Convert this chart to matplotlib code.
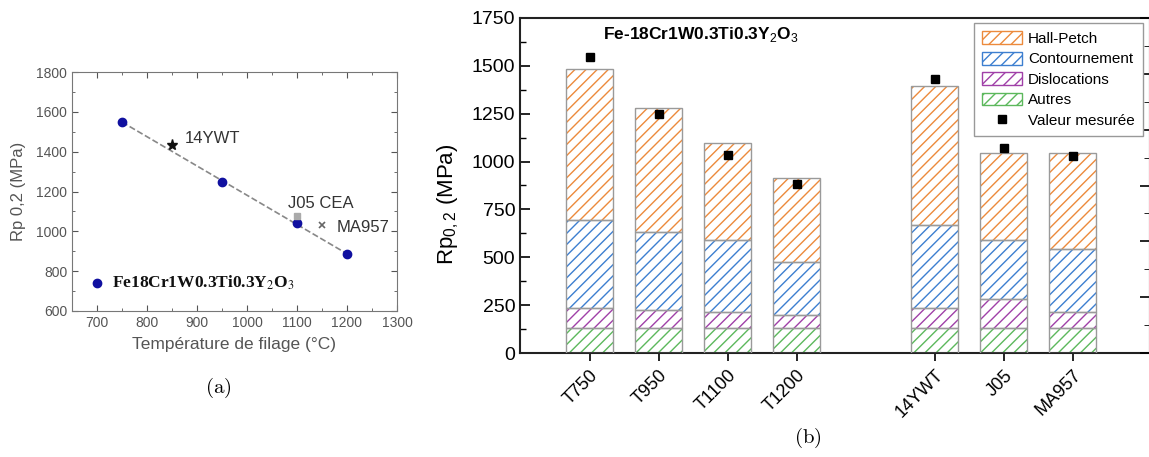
import matplotlib
matplotlib.use("Agg")
import matplotlib.pyplot as plt
from matplotlib.patches import Patch
from matplotlib.lines import Line2D
from matplotlib.ticker import MultipleLocator
import numpy as np

# ---- panel (a): Rp0.2 vs extrusion temperature ----
temp_fe18 = [750, 950, 1100, 1200]
rp_fe18 = [1550, 1250, 1040, 885]
ref_names = ["14YWT", "J05 CEA", "MA957"]
ref_temp = [850, 1100, 1150]
ref_rp = [1435, 1075, 1030]

# ---- panel (b): stacked contributions ----
samples = ["T750", "T950", "T1100", "T1200", "14YWT", "J05", "MA957"]
autres = [133, 133, 133, 133, 133, 133, 133]
dislocations = [104, 93, 81, 65, 104, 148, 81]
contournement = [456, 404, 375, 276, 433, 310, 328]
hall_petch = [790, 648, 506, 439, 727, 454, 501]
mesure = [1548, 1246, 1035, 885, 1433, 1070, 1031]

plt.rcParams['font.family'] = ['Liberation Sans', 'DejaVu Sans']
plt.rcParams['hatch.linewidth'] = 1.0
plt.rcParams['mathtext.fontset'] = 'custom'
plt.rcParams['mathtext.rm'] = 'Liberation Sans'

W, H = 1149, 457
fig = plt.figure(figsize=(W / 100, H / 100), dpi=100)


def box(l, t, r, b):
    return [l / W, 1 - b / H, (r - l) / W, (b - t) / H]


# ------------------ (a) ------------------
gray = '#555555'
ax1 = fig.add_axes(box(72, 72, 397, 311))
ax1.plot(temp_fe18, rp_fe18, 'o', color='#1010a0', markersize=6, zorder=3)
fit = np.polyfit(temp_fe18, rp_fe18, 1)
xs = np.array([min(temp_fe18), max(temp_fe18)])
ax1.plot(xs, np.polyval(fit, xs), '--', color='#888888', lw=1.2, zorder=2)
ax1.plot(ref_temp[0], ref_rp[0], '*', color='#111111', markersize=8, zorder=3)
ax1.plot(ref_temp[1], ref_rp[1], 's', color='#aaaaaa', markersize=5, zorder=3)
ax1.plot(ref_temp[2], ref_rp[2], 'x', color='#666666', markersize=5, mew=1.2, zorder=3)
ax1.text(ref_temp[0] + 26, ref_rp[0] + 29, ref_names[0], color='#333333', fontsize=12,
         va='center')
ax1.text(ref_temp[1] - 18, ref_rp[1] + 67, ref_names[1], color='#333333', fontsize=12,
         va='center')
ax1.text(ref_temp[2] + 30, ref_rp[2] - 13, ref_names[2], color='#333333', fontsize=12,
         va='center')
ax1.plot([700], [741], 'o', color='#1010a0', markersize=6)
ax1.text(730, 741, r'Fe18Cr1W0.3Ti0.3Y$_2$O$_3$', fontsize=12.5, fontweight='bold',
         family='Liberation Serif', math_fontfamily='stix', va='center', color='#111111')
ax1.set_xlim(650, 1300)
ax1.set_ylim(600, 1800)
ax1.set_xticks(range(700, 1301, 100))
ax1.set_yticks(range(600, 1801, 200))
ax1.xaxis.set_minor_locator(MultipleLocator(50))
ax1.yaxis.set_minor_locator(MultipleLocator(100))
ax1.tick_params(which='both', direction='in', top=True, right=True, colors=gray,
                labelsize=10, labelcolor=gray)
ax1.tick_params(which='major', length=4)
ax1.tick_params(which='minor', length=2)
for s in ax1.spines.values():
    s.set_color('#777777')
ax1.set_xlabel('Température de filage (°C)', color=gray, fontsize=12.5, labelpad=5)
ax1.set_ylabel('Rp 0,2 (MPa)', color=gray, fontsize=12, labelpad=7)

fig.text(218 / W, 1 - 388 / H, r'$\mathrm{(a)}$', math_fontfamily='cm', fontsize=15,
         ha='center', va='center')

# ------------------ (b) ------------------
ax2 = fig.add_axes(box(520, 18, 1150, 353))
pos = np.array([0, 1, 2, 3, 5, 6, 7])
width = 0.68
layers = [
    (autres, '#5cb85c', 'Autres'),
    (dislocations, '#a040a8', 'Dislocations'),
    (contournement, '#3d7fd0', 'Contournement'),
    (hall_petch, '#ec8a3c', 'Hall-Petch'),
]
bottom = np.zeros(len(samples))
for vals, col, name in layers:
    ax2.bar(pos, vals, width, bottom=bottom, color='white', edgecolor=col,
            hatch='///', linewidth=0, zorder=2)
    ax2.bar(pos, vals, width, bottom=bottom, fill=False, edgecolor='#9a9a9a',
            linewidth=1.0, zorder=3)
    bottom += np.array(vals)
ax2.plot(pos, mesure, 's', color='black', markersize=6, zorder=4)

ax2.set_xlim(-1.01, 8.12)
ax2.set_ylim(0, 1750)
ax2.set_xticks(pos)
ax2.set_xticklabels(samples, rotation=45, ha='right', rotation_mode='anchor', fontsize=13)
ax2.yaxis.set_major_locator(MultipleLocator(250))
ax2.yaxis.set_minor_locator(MultipleLocator(125))
ax2.tick_params(axis='y', which='both', direction='in', labelsize=14)
ax2.tick_params(axis='y', which='major', length=7, width=1.2)
ax2.tick_params(axis='y', which='minor', length=4, width=1.0)
ax2.tick_params(axis='x', direction='out', length=6, width=1.2, pad=4)
for s in ax2.spines.values():
    s.set_linewidth(1.5)
    s.set_color('#222222')
ax2.set_ylabel(r'Rp$_{0,2}$ (MPa)', fontsize=16)
ax2.yaxis.set_label_coords(-0.094, 0.445)
ax2.text(0.132, 0.95, r'Fe-18Cr1W0.3Ti0.3Y$_2$O$_3$', transform=ax2.transAxes,
         fontsize=12.5, fontweight='bold', va='center', ha='left')

# secondary scale on the right edge (labels fall outside the frame)
ax3 = ax2.twinx()
ax3.set_ylim(0, 6)
ax3.yaxis.set_major_locator(MultipleLocator(1))
ax3.yaxis.set_minor_locator(MultipleLocator(0.5))
ax3.tick_params(which='both', direction='in', labelright=False)
ax3.tick_params(which='major', length=7, width=1.2)
ax3.tick_params(which='minor', length=4)
for s in ax3.spines.values():
    s.set_visible(False)

handles = [Patch(facecolor='white', edgecolor=c, hatch='///', label=n)
           for _, c, n in layers[::-1]]
handles.append(Line2D([], [], marker='s', color='black', ls='none', markersize=6,
                      label='Valeur mesurée'))
leg = ax3.legend(handles=handles, loc='upper right',
                 bbox_to_anchor=(1143 / W, 1 - 23 / H), bbox_transform=fig.transFigure,
                 fontsize=11, fancybox=False, edgecolor='#999999', framealpha=1,
                 handlelength=2.6, handleheight=0.9, handletextpad=0.4,
                 labelspacing=0.38, borderpad=0.55, borderaxespad=0)
leg.set_zorder(5)

fig.text(808 / W, 1 - 438 / H, r'$\mathrm{(b)}$', math_fontfamily='cm', fontsize=15,
         ha='center', va='center')

fig.savefig('out.png', dpi=100)
